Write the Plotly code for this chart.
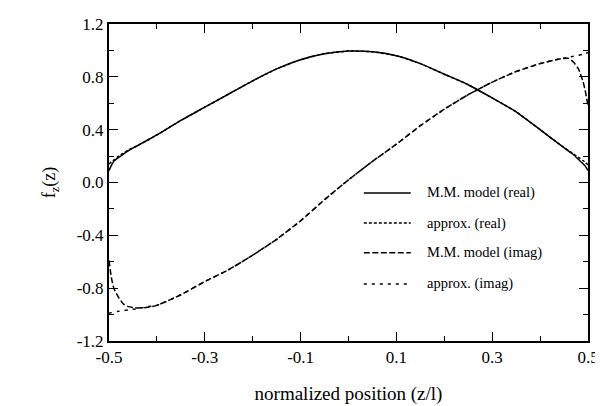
import plotly.graph_objects as go

# normalized position samples (z/l)
z_pos = [-0.5, -0.495, -0.49, -0.48, -0.47, -0.46, -0.44, -0.42, -0.4, -0.35, -0.3,
         -0.25, -0.2, -0.15, -0.1, -0.05, 0.0, 0.05, 0.1, 0.15, 0.2, 0.25, 0.3,
         0.35, 0.4, 0.44, 0.46, 0.47, 0.48, 0.49, 0.495, 0.5]

mm_real = [0.09, 0.13, 0.16, 0.19, 0.215, 0.24, 0.28, 0.32, 0.36, 0.47, 0.57,
           0.67, 0.77, 0.86, 0.93, 0.975, 0.995, 0.99, 0.96, 0.90, 0.82, 0.74, 0.64,
           0.535, 0.40, 0.29, 0.235, 0.21, 0.175, 0.14, 0.12, 0.09]

approx_real = [0.14, 0.155, 0.17, 0.20, 0.22, 0.245, 0.28, 0.32, 0.36, 0.47, 0.57,
               0.67, 0.77, 0.86, 0.93, 0.975, 0.995, 0.99, 0.96, 0.90, 0.82, 0.74, 0.64,
               0.535, 0.40, 0.29, 0.24, 0.215, 0.19, 0.165, 0.15, 0.135]

mm_imag = [-0.59, -0.72, -0.80, -0.87, -0.92, -0.94, -0.95, -0.945, -0.93, -0.85, -0.75,
           -0.66, -0.55, -0.43, -0.29, -0.13, 0.02, 0.16, 0.29, 0.43, 0.555, 0.665, 0.76,
           0.84, 0.90, 0.935, 0.94, 0.91, 0.86, 0.76, 0.68, 0.58]

approx_imag = [-0.99, -0.985, -0.98, -0.975, -0.97, -0.965, -0.955, -0.94, -0.93, -0.85, -0.75,
               -0.66, -0.55, -0.43, -0.29, -0.13, 0.02, 0.16, 0.29, 0.43, 0.555, 0.665, 0.76,
               0.84, 0.90, 0.935, 0.948, 0.955, 0.963, 0.972, 0.977, 0.985]

series_names = ["M.M. model (real)", "approx. (real)", "M.M. model (imag)", "approx. (imag)"]
series_vals = [mm_real, approx_real, mm_imag, approx_imag]
dashes = ["solid", "3px,2px", "6px,2.5px", "3px,5px"]

x_ticks = [-0.5, -0.3, -0.1, 0.1, 0.3, 0.5]
x_ticklabels = ["-0.5", "-0.3", "-0.1", "0.1", "0.3", "0.5"]
y_ticks = [-1.2, -0.8, -0.4, 0.0, 0.4, 0.8, 1.2]
y_ticklabels = ["-1.2", "-0.8", "-0.4", "0.0", "0.4", "0.8", "1.2"]

FONT = "Liberation Serif"

fig = go.Figure()
for name, vals, dash in zip(series_names, series_vals, dashes):
    fig.add_trace(go.Scatter(x=z_pos, y=vals, mode="lines", name=name,
                             line=dict(color="black", width=1.5, dash=dash, shape="spline", smoothing=0.5),
                             showlegend=False))

# manual legend (paper coordinates)
leg_x0, leg_x1, leg_tx = 0.532, 0.630, 0.660
leg_ys = [0.467, 0.372, 0.278, 0.180]
for name, dash, ly in zip(series_names, dashes, leg_ys):
    fig.add_shape(type="line", xref="paper", yref="paper", x0=leg_x0, x1=leg_x1, y0=ly, y1=ly,
                  line=dict(color="black", width=1.5, dash=dash))
    fig.add_annotation(xref="paper", yref="paper", x=leg_tx, y=ly, text=name, showarrow=False,
                       xanchor="left", yanchor="middle", font=dict(family=FONT, size=14.5, color="black"))

axis_common = dict(showline=True, linecolor="black", linewidth=2, mirror="ticks",
                   ticks="inside", ticklen=9, tickwidth=1.4, tickcolor="black",
                   showgrid=False, zeroline=False,
                   tickfont=dict(family=FONT, size=17, color="black"))

fig.update_xaxes(range=[-0.5, 0.5], tickvals=x_ticks, ticktext=x_ticklabels,
                 minor=dict(ticks="inside", ticklen=5, tickwidth=1.2, tickcolor="black", dtick=0.1,
                            tick0=0.0, showgrid=False),
                 title=dict(text="normalized position (z/l)", font=dict(family=FONT, size=19, color="black"),
                            standoff=20),
                 **axis_common)
fig.update_yaxes(range=[-1.2, 1.2], tickvals=y_ticks, ticktext=y_ticklabels,
                 minor=dict(ticks="inside", ticklen=5, tickwidth=1.2, tickcolor="black", dtick=0.2,
                            tick0=0.0, showgrid=False),
                 title=dict(text="f<sub>z</sub>(z)", font=dict(family=FONT, size=18, color="black"),
                            standoff=16),
                 **axis_common)

fig.update_layout(width=603, height=406, margin=dict(l=101, r=23, t=16, b=73, autoexpand=False),
                  plot_bgcolor="white", paper_bgcolor="white", showlegend=False)

fig.write_html("out.html")
